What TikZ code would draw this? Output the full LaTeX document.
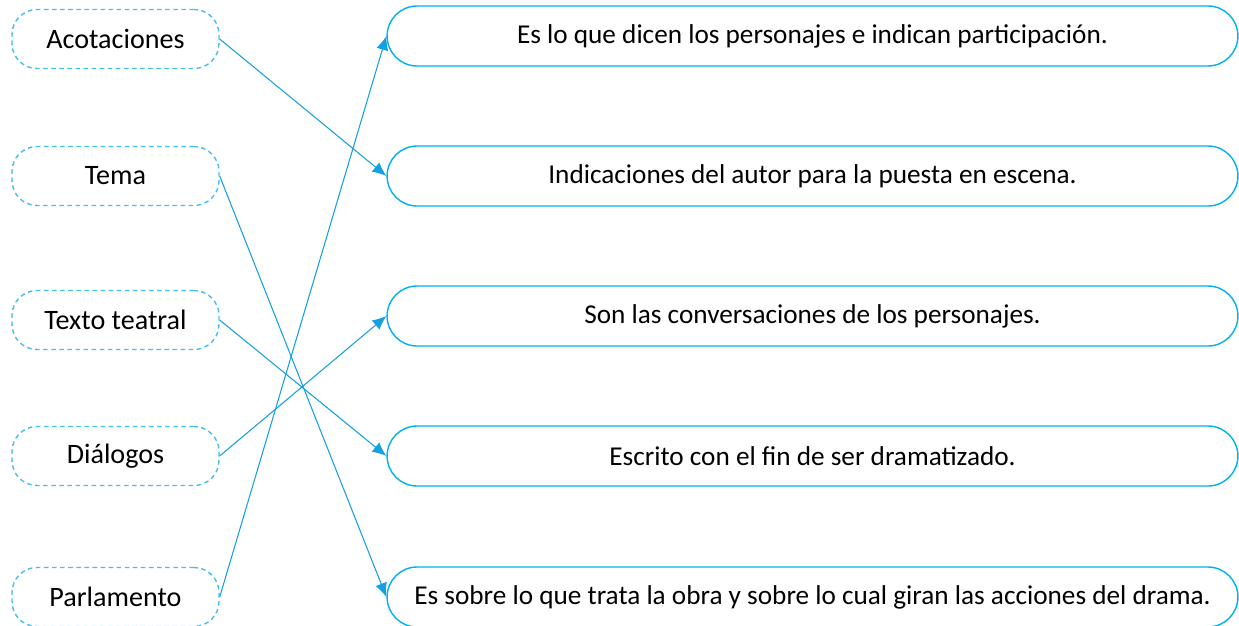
\documentclass[tikz,border=0pt]{standalone}
\usepackage{fontspec}
\setmainfont{Carlito}
\usetikzlibrary{arrows.meta}

\definecolor{boxblue}{RGB}{0,176,240}
\definecolor{dashblue}{RGB}{70,190,235}
\definecolor{arrowblue}{RGB}{20,160,225}

\tikzset{
  term/.style={draw=dashblue, dash pattern=on 2.6pt off 2pt, line width=0.8pt,
    rounded corners=0.5cm, minimum width=4.14cm, minimum height=1.18cm,
    font=\fontsize{16}{18}\selectfont},
  meaning/.style={draw=boxblue, line width=0.8pt, rounded corners=0.6cm,
    minimum width=17.02cm, minimum height=1.2cm, font=\fontsize{15.5}{18}\selectfont},
  link/.style={draw=arrowblue, line width=0.6pt, -{Latex[length=2.8mm,width=2.4mm]}}
}

\begin{document}
\begin{tikzpicture}[x=0.02cm,y=-0.02cm]
\useasboundingbox (0,0) rectangle (1239,625);
% left column
\node[term] (acot) at (115.5,39) {Acotaciones};
\node[term] (tema) at (115.5,176) {Tema};
\node[term] (texto) at (115.5,320) {Texto teatral};
\node[term] (dial) at (115.5,456) {Diálogos};
\node[term] (parl) at (115.5,597) {Parlamento};
% right column
\node[meaning] (m1) at (812.5,36) {Es lo que dicen los personajes e indican participación.};
\node[meaning] (m2) at (812.5,176) {Indicaciones del autor para la puesta en escena.};
\node[meaning] (m3) at (812.5,316) {Son las conversaciones de los personajes.};
\node[meaning] (m4) at (812.5,456) {Escrito con el fin de ser dramatizado.};
\node[meaning] (m5) at (812.5,597) {Es sobre lo que trata la obra y sobre lo cual giran las acciones del drama.};
% matches
\draw[link] (acot.east) -- (m2.west);
\draw[link] (tema.east) -- (m5.west);
\draw[link] (texto.east) -- (m4.west);
\draw[link] (dial.east) -- (m3.west);
\draw[link] (parl.east) -- (m1.west);
\end{tikzpicture}
\end{document}
